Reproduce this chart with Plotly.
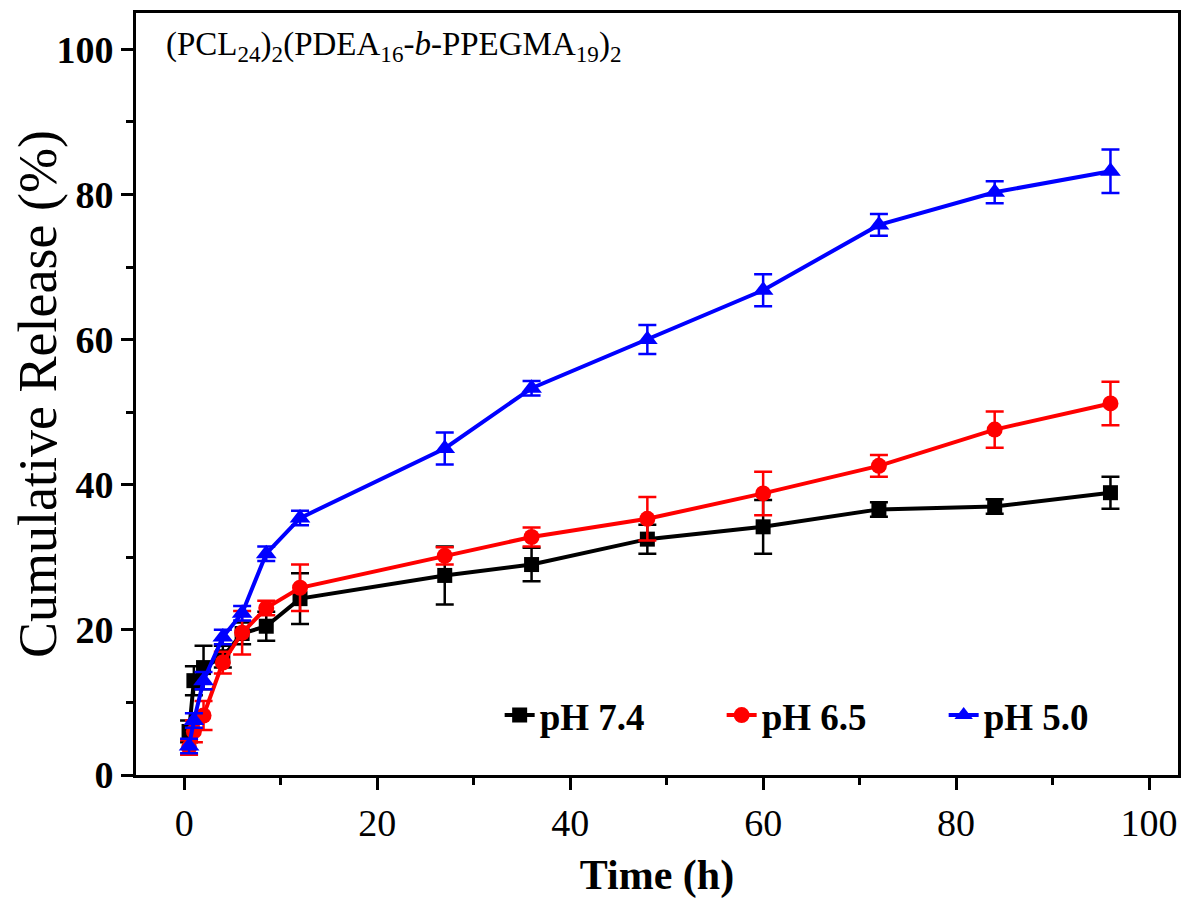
import plotly.graph_objects as go

time_h = [0.5, 1, 2, 4, 6, 8.5, 12, 27, 36, 48, 60, 72, 84, 96]

ph74 = [6.0, 13.0, 14.8, 16.3, 19.5, 20.5, 24.3, 27.5, 29.0, 32.5, 34.2, 36.6, 37.0, 38.9]
ph74_err = [1.5, 2.0, 3.0, 1.5, 1.5, 2.0, 3.5, 4.0, 2.3, 2.0, 3.7, 1.0, 1.0, 2.2]

ph65 = [3.8, 6.0, 8.2, 15.5, 19.6, 23.0, 25.8, 30.2, 32.8, 35.3, 38.8, 42.6, 47.6, 51.2]
ph65_err = [1.0, 1.5, 2.0, 1.5, 3.0, 1.0, 3.2, 1.2, 1.3, 3.0, 3.0, 1.5, 2.5, 3.0]

ph50 = [4.0, 7.5, 13.0, 19.0, 22.3, 30.5, 35.4, 45.0, 53.3, 60.0, 66.8, 75.8, 80.3, 83.2]
ph50_err = [1.0, 1.0, 1.2, 1.0, 1.0, 1.0, 1.0, 2.2, 1.0, 2.0, 2.2, 1.5, 1.5, 3.0]

series_names = ["pH 7.4", "pH 6.5", "pH 5.0"]
series_colors = ["#000000", "#FF0000", "#0000FF"]
series_symbols = ["square", "circle", "triangle-up"]
series_sizes = [15, 16, 18]

x_ticks = [0, 20, 40, 60, 80, 100]
y_ticks = [0, 20, 40, 60, 80, 100]

serif = "Liberation Serif, Times New Roman, serif"

fig = go.Figure()
for name, vals, errs, col, sym, sz in zip(series_names, [ph74, ph65, ph50],
                                          [ph74_err, ph65_err, ph50_err],
                                          series_colors, series_symbols, series_sizes):
    fig.add_trace(go.Scatter(
        x=time_h, y=vals, name=name, mode="lines+markers",
        line=dict(color=col, width=4),
        marker=dict(symbol=sym, size=sz, color=col),
        error_y=dict(type="data", array=errs, visible=True, color=col,
                     thickness=2.5, width=9),
    ))

fig.add_annotation(
    x=0.027, y=0.985, xref="paper", yref="paper", xanchor="left", yanchor="top",
    text="(PCL<sub>24</sub>)<sub>2</sub>(PDEA<sub>16</sub>-<i>b</i>-PPEGMA<sub>19</sub>)<sub>2</sub>",
    showarrow=False, font=dict(family=serif, size=33, color="black"),
)

axis_common = dict(
    showline=True, linecolor="black", linewidth=3, mirror=True,
    ticks="outside", ticklen=12, tickwidth=3, tickcolor="black",
    showgrid=False, zeroline=False,
)

fig.update_xaxes(
    range=[-5, 103], tickvals=x_ticks,
    minor=dict(dtick=10, tick0=0, ticks="outside", ticklen=7, tickwidth=3, tickcolor="black"),
    tickfont=dict(family=serif, size=38, color="black"),
    title=dict(text="<b>Time (h)</b>", font=dict(family=serif, size=42, color="black"), standoff=18),
    **axis_common,
)
fig.update_yaxes(
    range=[0, 105], tickvals=y_ticks,
    minor=dict(dtick=10, tick0=0, ticks="outside", ticklen=7, tickwidth=3, tickcolor="black"),
    tickfont=dict(family=serif, size=38, color="black", weight="bold"),
    title=dict(text="Cumulative Release (%)", font=dict(family=serif, size=54, color="black"), standoff=4),
    **axis_common,
)

fig.update_layout(
    width=1192, height=894,
    margin=dict(l=128, r=22, t=2, b=127),
    paper_bgcolor="white", plot_bgcolor="white",
    showlegend=True,
    legend=dict(
        orientation="h", x=0.349, y=0.078, xanchor="left", yanchor="middle",
        font=dict(family=serif, size=37, color="black", weight="bold"),
        bgcolor="rgba(255,255,255,0)", entrywidth=177, entrywidthmode="pixels",
    ),
)

fig.write_html("out.html")
